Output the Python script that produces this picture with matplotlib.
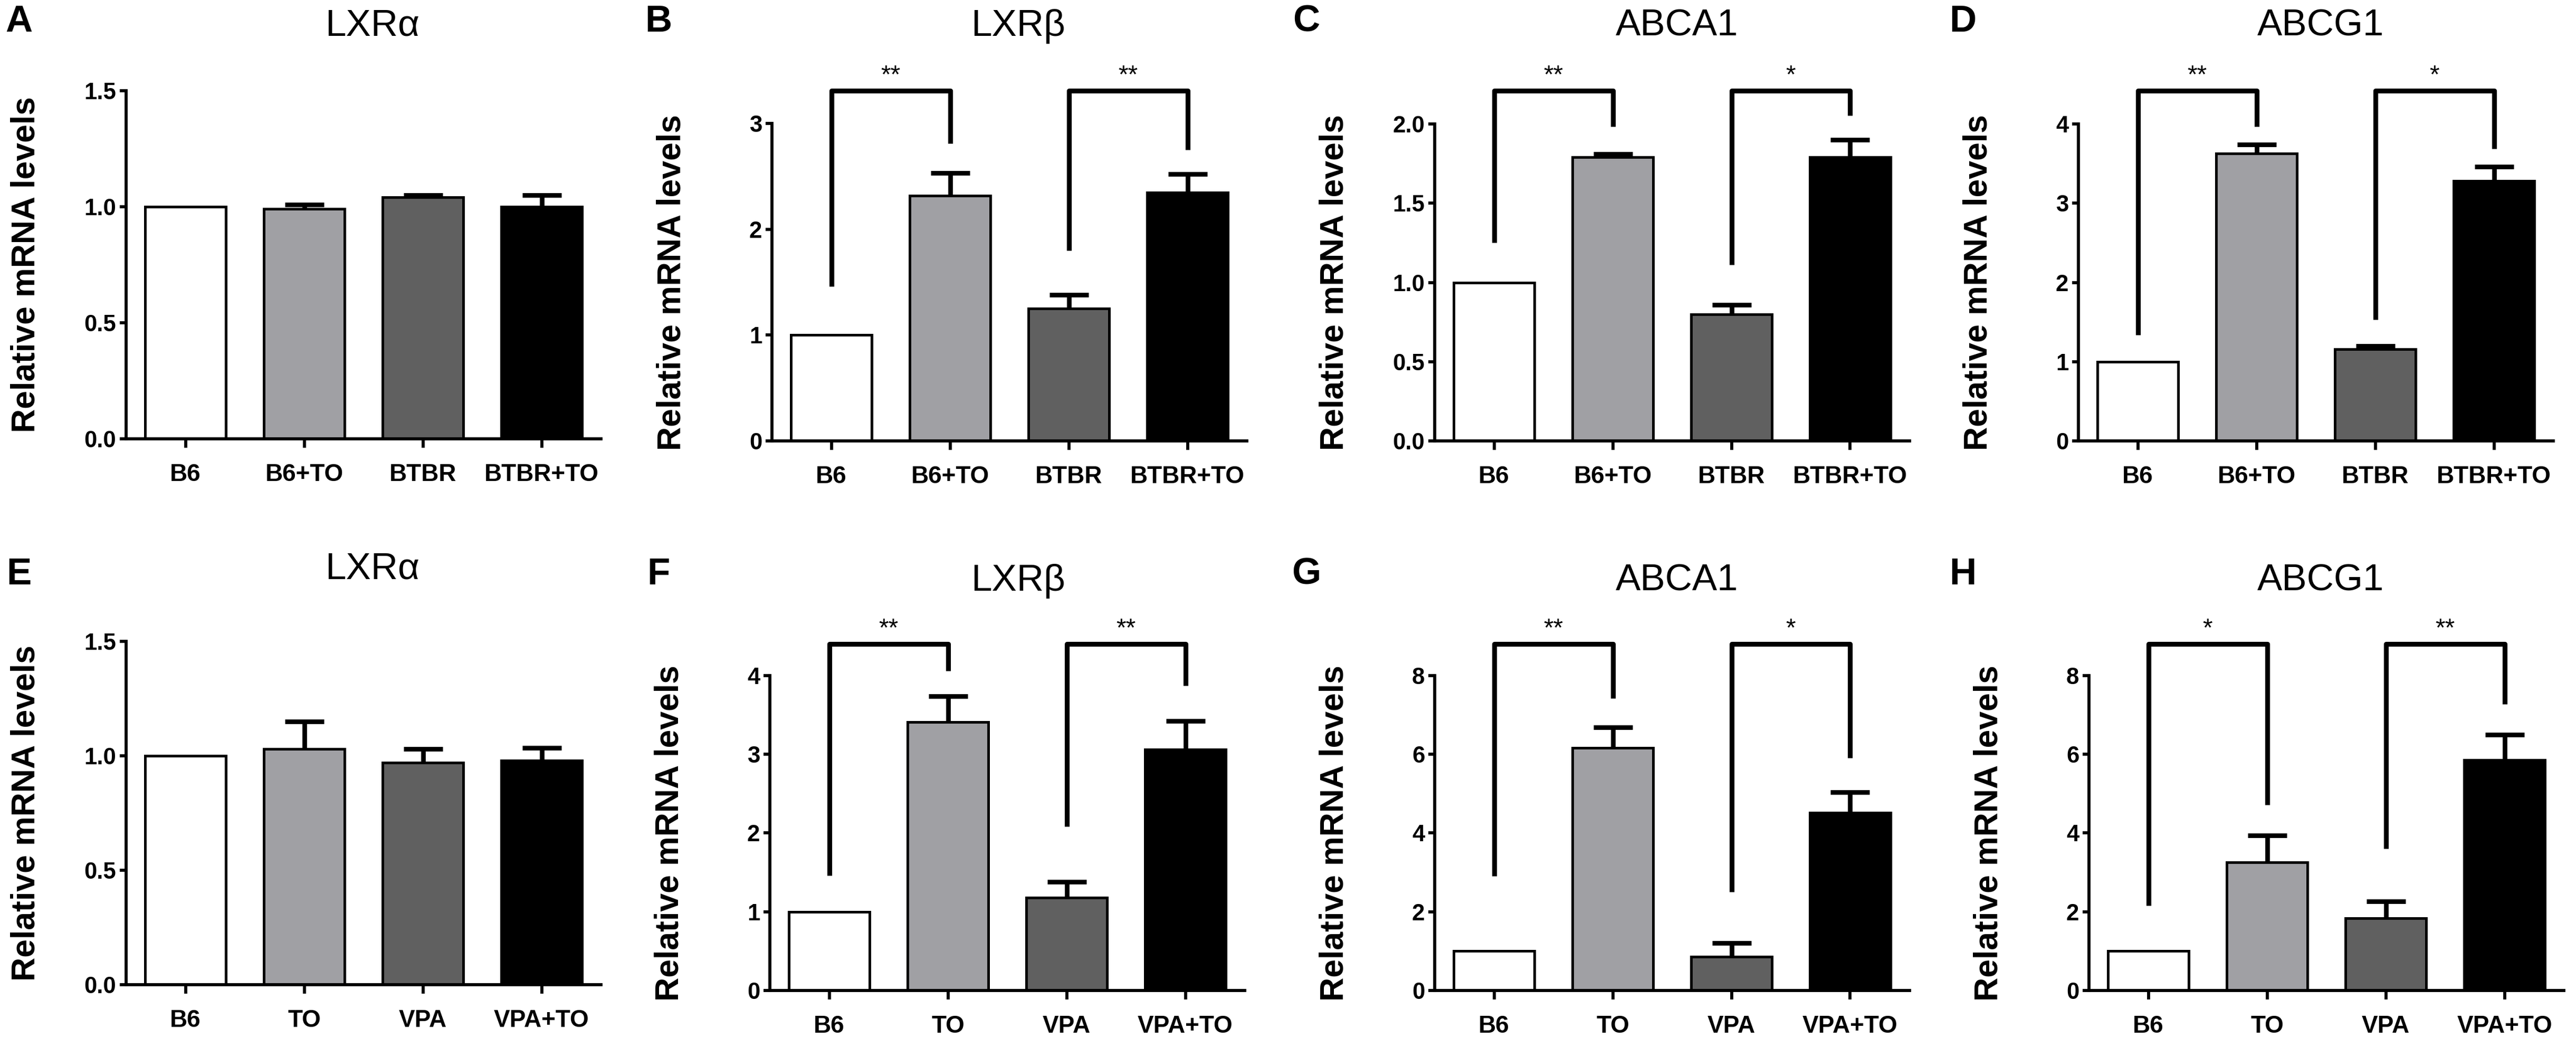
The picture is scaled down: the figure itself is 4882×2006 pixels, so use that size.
import matplotlib.pyplot as plt

plt.rcParams['font.family'] = ['Liberation Sans', 'DejaVu Sans']

W, H = 4882, 2006
DPI = 300

# groups
groups_top = ['B6', 'B6+TO', 'BTBR', 'BTBR+TO']
groups_bottom = ['B6', 'TO', 'VPA', 'VPA+TO']
bar_colors = ['white', '#a0a0a4', '#606060', 'black']

# top row (BTBR model)
lxra_top_mean = [1.0, 0.99, 1.04, 1.0]
lxra_top_sem = [0.0, 0.02, 0.01, 0.05]
lxrb_top_mean = [1.0, 2.32, 1.25, 2.35]
lxrb_top_sem = [0.0, 0.21, 0.13, 0.17]
abca1_top_mean = [1.0, 1.79, 0.80, 1.79]
abca1_top_sem = [0.0, 0.02, 0.06, 0.11]
abcg1_top_mean = [1.0, 3.63, 1.16, 3.28]
abcg1_top_sem = [0.0, 0.11, 0.04, 0.18]

# bottom row (VPA model)
lxra_bot_mean = [1.0, 1.03, 0.97, 0.98]
lxra_bot_sem = [0.0, 0.12, 0.06, 0.055]
lxrb_bot_mean = [1.0, 3.41, 1.18, 3.06]
lxrb_bot_sem = [0.0, 0.33, 0.20, 0.36]
abca1_bot_mean = [1.0, 6.16, 0.86, 4.51]
abca1_bot_sem = [0.0, 0.52, 0.34, 0.52]
abcg1_bot_mean = [1.0, 3.26, 1.83, 5.85]
abcg1_bot_sem = [0.0, 0.68, 0.43, 0.64]

# significance brackets: (left bar, right bar, left leg end, right leg end, label)
lxrb_top_sig = [(0, 1, 1.46, 2.81, '**'), (2, 3, 1.80, 2.75, '**')]
abca1_top_sig = [(0, 1, 1.25, 1.985, '**'), (2, 3, 1.11, 2.055, '*')]
abcg1_top_sig = [(0, 1, 1.34, 3.97, '**'), (2, 3, 1.53, 3.69, '*')]
lxrb_bot_sig = [(0, 1, 1.46, 4.06, '**'), (2, 3, 2.08, 3.87, '**')]
abca1_bot_sig = [(0, 1, 2.91, 7.42, '**'), (2, 3, 2.51, 5.91, '*')]
abcg1_bot_sig = [(0, 1, 2.15, 4.71, '*'), (2, 3, 3.60, 7.27, '**')]
bracket_tops = [3.31, 2.21, 4.42, 4.40, 8.80, 8.80]

titles = ['LXRα', 'LXRβ', 'ABCA1', 'ABCG1']
letters_top = ['A', 'B', 'C', 'D']
letters_bottom = ['E', 'F', 'G', 'H']


def px_axes(fig, left, zero_y, top_y, width=900):
    return fig.add_axes([left / W, 1 - zero_y / H, width / W, (zero_y - top_y) / H])


def draw_panel(ax, groups, means, sems, yticks, fmt, ytop, sig=()):
    x = list(range(len(groups)))
    ax.bar(x, means, width=0.68, color=bar_colors, edgecolor='black',
           linewidth=1.2, zorder=2)
    idx = [i for i, e in enumerate(sems) if e > 0]
    ax.errorbar(idx, [means[i] for i in idx], yerr=[sems[i] for i in idx],
                fmt='none', ecolor='black', elinewidth=2.1, capsize=8.8,
                capthick=2.1, zorder=1)
    ax.set_xlim(-0.5, 3.5)
    ax.set_ylim(0, ytop)
    ax.set_xticks(x)
    ax.set_xticklabels(groups, fontsize=11, fontweight='bold')
    ax.set_yticks(yticks)
    ax.set_yticklabels([fmt.format(v) for v in yticks], fontsize=10.5,
                       fontweight='bold')
    for side in ('top', 'right'):
        ax.spines[side].set_visible(False)
    ax.spines['left'].set_bounds(0, yticks[-1])
    ax.spines['left'].set_linewidth(1.4)
    ax.spines['bottom'].set_linewidth(1.4)
    ax.tick_params(axis='x', direction='out', length=4, width=1.4, pad=7)
    ax.tick_params(axis='y', direction='out', length=3, width=1.4, pad=1.5)
    ax.set_ylabel('Relative mRNA levels', fontsize=15, fontweight='bold')
    ax.yaxis.set_label_coords(-0.178, (yticks[-1] / 2) / ytop)

    for i, j, yi, yj, stars in sig:
        ax.plot([i, i, j, j], [yi, ytop, ytop, yj], color='black', lw=2.2,
                clip_on=False, solid_joinstyle='round', solid_capstyle='butt')
        ax.annotate(stars, xy=((i + j) / 2, ytop), xytext=(0, 1.5),
                    textcoords='offset points', ha='center', va='bottom',
                    fontsize=11.5, annotation_clip=False)


fig = plt.figure(figsize=(W / DPI, H / DPI), dpi=DPI)

# axes placement in pixels: (spine x, zero line y, top y)
top_pos = [(239, 832, 172), (1463, 836, 172), (2719, 836, 172), (3939, 836, 172)]
bot_pos = [(239, 1867, 1216), (1459, 1878, 1221), (2719, 1878, 1221), (3959, 1878, 1221)]

ticks_a = [0, 0.5, 1.0, 1.5]
ticks_c = [0, 0.5, 1.0, 1.5, 2.0]

ax = px_axes(fig, *top_pos[0])
draw_panel(ax, groups_top, lxra_top_mean, lxra_top_sem, ticks_a, '{:.1f}', 1.5)
ax = px_axes(fig, *top_pos[1])
draw_panel(ax, groups_top, lxrb_top_mean, lxrb_top_sem, [0, 1, 2, 3], '{:.0f}',
           bracket_tops[0], lxrb_top_sig)
ax = px_axes(fig, *top_pos[2])
draw_panel(ax, groups_top, abca1_top_mean, abca1_top_sem, ticks_c, '{:.1f}',
           bracket_tops[1], abca1_top_sig)
ax = px_axes(fig, *top_pos[3])
draw_panel(ax, groups_top, abcg1_top_mean, abcg1_top_sem, [0, 1, 2, 3, 4], '{:.0f}',
           bracket_tops[2], abcg1_top_sig)

ax = px_axes(fig, *bot_pos[0])
draw_panel(ax, groups_bottom, lxra_bot_mean, lxra_bot_sem, ticks_a, '{:.1f}', 1.5)
ax = px_axes(fig, *bot_pos[1])
draw_panel(ax, groups_bottom, lxrb_bot_mean, lxrb_bot_sem, [0, 1, 2, 3, 4], '{:.0f}',
           bracket_tops[3], lxrb_bot_sig)
ax = px_axes(fig, *bot_pos[2])
draw_panel(ax, groups_bottom, abca1_bot_mean, abca1_bot_sem, [0, 2, 4, 6, 8], '{:.0f}',
           bracket_tops[4], abca1_bot_sig)
ax = px_axes(fig, *bot_pos[3])
draw_panel(ax, groups_bottom, abcg1_bot_mean, abcg1_bot_sem, [0, 2, 4, 6, 8], '{:.0f}',
           bracket_tops[5], abcg1_bot_sig)

# titles and panel letters
title_x = [706, 1930, 3178, 4398]
title_y_bottom = [1080, 1102, 1102, 1102]
letter_x = [36, 1248, 2476, 3720]

for k in range(4):
    fig.text(title_x[k] / W, 1 - 50 / H, titles[k], fontsize=17,
             ha='center', va='center')
    fig.text(title_x[k] / W, 1 - title_y_bottom[k] / H, titles[k], fontsize=17,
             ha='center', va='center')
    fig.text(letter_x[k] / W, 1 - 42 / H, letters_top[k], fontsize=17,
             fontweight='bold', ha='center', va='center')
    fig.text(letter_x[k] / W, 1 - 1090 / H, letters_bottom[k], fontsize=17,
             fontweight='bold', ha='center', va='center')

fig.savefig('out.png', dpi=DPI, facecolor='white')
